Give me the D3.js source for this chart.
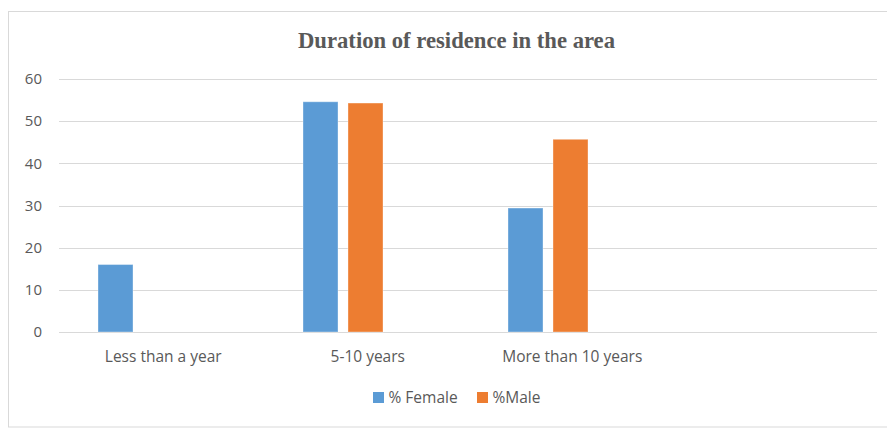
<!DOCTYPE html>
<html><head><meta charset="utf-8">
<script src="https://cdn.jsdelivr.net/npm/d3@7"></script>
<style>body{margin:0;background:#fff}svg{display:block}</style>
</head><body>
<svg id="c" width="887" height="429"></svg>
<script>
const title = "Duration of residence in the area";
const categories = ["Less than a year", "5-10 years", "More than 10 years", ""];
const seriesNames = ["% Female", "%Male"];
const female = [16, 54.6, 29.4, null];
const male = [null, 54.3, 45.7, null];
const yTicks = [0, 10, 20, 30, 40, 50, 60];
const colors = ["#5B9BD5", "#ED7D31"];

const svg = d3.select("#c");
const font = "'Open Sans', 'Liberation Sans', sans-serif";
const textColor = "#595959";

// outer border
svg.append("rect").attr("x", 8.5).attr("y", 11.5).attr("width", 890).attr("height", 415.5)
  .attr("fill", "none").attr("stroke", "#D9D9D9").attr("stroke-width", 1);

svg.append("text").attr("x", 456.5).attr("y", 48).attr("text-anchor", "middle")
  .attr("font-family", "'Liberation Serif', 'Times New Roman', serif").attr("font-weight", "bold")
  .attr("font-size", 22.5).attr("fill", textColor)
  .attr("textLength", 317).attr("lengthAdjust", "spacingAndGlyphs").text(title);

const y = d3.scaleLinear().domain([0, 60]).range([332, 79]);
const gridX0 = 59, gridX1 = 877;
// label positions follow the plot area; bar clusters sit slightly left of them
const xl = d3.scaleBand().domain(d3.range(categories.length)).range([gridX0, gridX1]);
const x = d3.scaleBand().domain(d3.range(categories.length)).range([35.5, 855.5]);
const pairW = 80;
const xs = d3.scaleBand().domain([0, 1])
  .range([x.bandwidth() / 2 - pairW / 2, x.bandwidth() / 2 + pairW / 2]).paddingInner(0.222);

// grid
svg.append("g").selectAll("line").data(yTicks).join("line")
  .attr("x1", gridX0).attr("x2", gridX1)
  .attr("y1", d => Math.round(y(d)) + 0.5).attr("y2", d => Math.round(y(d)) + 0.5)
  .attr("stroke", "#D9D9D9").attr("stroke-width", 1);

// y labels
const yAxis = d3.axisLeft(y).tickValues(yTicks).tickSize(0).tickPadding(0);
const ga = svg.append("g").attr("transform", "translate(42,0)").call(yAxis);
ga.select(".domain").remove();
ga.selectAll("text").attr("font-family", font).attr("font-size", 15).attr("fill", textColor);

// bars
const series = [female, male];
series.forEach((vals, si) => {
  svg.append("g").selectAll("rect").data(vals.map((v, i) => ({v, i})).filter(d => d.v != null)).join("rect")
    .attr("x", d => x(d.i) + xs(si))
    .attr("width", xs.bandwidth())
    .attr("y", d => y(d.v))
    .attr("height", d => y(0) - y(d.v))
    .attr("fill", colors[si])
    .attr("stroke", "#ffffff").attr("stroke-opacity", 0.35).attr("stroke-width", 1);
});

// x labels
svg.append("g").selectAll("text").data(categories).join("text")
  .attr("x", (d, i) => xl(i) + xl.bandwidth() / 2 + 2)
  .attr("y", 362).attr("text-anchor", "middle")
  .attr("font-family", font).attr("font-size", 15.5).attr("fill", textColor).text(d => d);

// legend
const legendItems = [{name: seriesNames[0], x: 373}, {name: seriesNames[1], x: 477}];
const lg = svg.append("g").selectAll("g").data(legendItems).join("g")
  .attr("transform", d => `translate(${d.x},392)`);
lg.append("rect").attr("width", 11).attr("height", 11).attr("fill", (d, i) => colors[i]);
lg.append("text").attr("x", 15.5).attr("y", 11).attr("font-family", font).attr("font-size", 15.5)
  .attr("fill", textColor).text(d => d.name);
</script>
</body></html>
